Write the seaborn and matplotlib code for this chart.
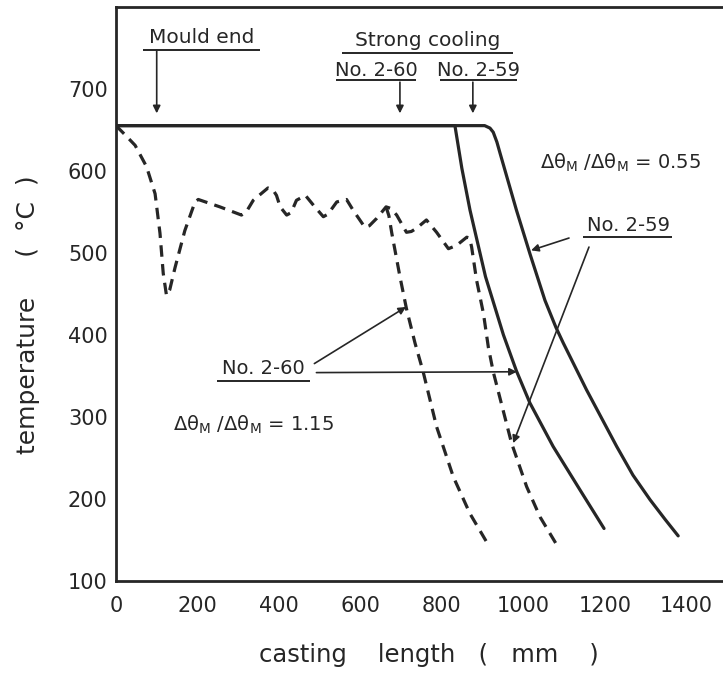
import matplotlib
matplotlib.use("Agg")
import matplotlib.pyplot as plt
import seaborn as sns
import pandas as pd

# ---------------- data ----------------
solid_260_x = [0, 832, 849, 869, 907, 925, 951, 983, 1016, 1073, 1139, 1198]
solid_260_t = [655, 655, 603, 552, 471, 442, 400, 356, 317, 264, 211, 164]

solid_259_x = [0, 905, 918, 926, 935, 943, 983, 1016, 1053, 1080, 1098, 1155, 1229, 1269, 1311,
               1348, 1380]
solid_259_t = [655, 655, 652, 647, 635, 621, 552, 499, 442, 409, 390, 333, 264, 229, 199,
               175, 155]

dash_259_x = [0, 20, 47, 75, 96, 108, 116, 124, 132, 145, 169, 194, 202, 255, 308, 320, 337, 373,
              385, 394, 403, 419, 430, 443, 465, 488, 509, 520, 542, 566, 582, 611, 622, 640, 663,
              675, 689, 713, 725, 738, 762, 787, 816, 836, 861, 868, 873, 885, 902, 914, 926, 971,
              1008, 1041, 1082]
dash_259_t = [655, 645, 631, 605, 572, 524, 475, 448, 455, 482, 527, 562, 565, 556, 546, 550, 564,
              579, 577, 570, 556, 546, 549, 564, 570, 556, 544, 547, 562, 565, 552, 531, 533, 542,
              556, 554, 546, 525, 526, 530, 540, 525, 505, 509, 519, 518, 507, 467, 426, 385, 355,
              268, 215, 178, 144]

dash_260_x = [663, 670, 677, 697, 713, 734, 754, 787, 828, 869, 914]
dash_260_t = [556, 545, 524, 471, 432, 390, 355, 288, 227, 182, 144]

x_ticks = [0, 200, 400, 600, 800, 1000, 1200, 1400]
y_ticks = [100, 200, 300, 400, 500, 600, 700]

# ---------------- style ----------------
sns.set_theme(style="white")
plt.rcParams["font.family"] = ["DejaVu Sans"]
plt.rcParams["mathtext.fontset"] = "dejavusans"
plt.rcParams["mathtext.default"] = "regular"
INK = "#262626"

fig = plt.figure(figsize=(7.23, 6.80), dpi=100)
ax = fig.add_axes([0.1604, 0.1456, 0.8396, 0.8446])

def df(x, t):
    return pd.DataFrame({"x": x, "t": t})

LW = 2.3
sns.lineplot(data=df(solid_260_x, solid_260_t), x="x", y="t", ax=ax, color=INK,
             lw=LW, sort=False, estimator=None)
sns.lineplot(data=df(solid_259_x, solid_259_t), x="x", y="t", ax=ax, color=INK,
             lw=LW, sort=False, estimator=None)
sns.lineplot(data=df(dash_259_x, dash_259_t), x="x", y="t", ax=ax, color=INK,
             lw=LW, sort=False, estimator=None)
sns.lineplot(data=df(dash_260_x, dash_260_t), x="x", y="t", ax=ax, color=INK,
             lw=LW, sort=False, estimator=None)
for ln in ax.lines[2:4]:
    ln.set_dashes((3.6, 2.3))
    ln.set_dash_capstyle("butt")
for ln in ax.lines:
    ln.set_solid_capstyle("round")
    ln.set_solid_joinstyle("round")

ax.set_xlim(0, 1490)
ax.set_ylim(100, 800)
ax.set_xticks(x_ticks)
ax.set_yticks(y_ticks)
ax.tick_params(direction="in", length=7, width=1.4, colors=INK, labelsize=15)
ax.tick_params(axis="x", pad=11)
ax.tick_params(axis="y", pad=6)
for s in ["left", "bottom", "top"]:
    ax.spines[s].set_linewidth(2.0)
    ax.spines[s].set_color(INK)
ax.spines["right"].set_visible(False)

ax.set_xlabel("casting    length   (   mm    )", fontsize=17.5, color=INK)
ax.xaxis.set_label_coords(0.515, -0.108)
ax.set_ylabel("temperature     (  °C  )", fontsize=18, color=INK)
ax.yaxis.set_label_coords(-0.125, 0.463)

# ---------------- annotations ----------------
TXT = dict(color=INK, ha="center", va="center")
arrow = dict(arrowstyle="-|>", lw=1.2, color=INK, mutation_scale=11, shrinkA=0, shrinkB=0)

def underline(x0, x1, y):
    ax.plot([x0, x1], [y, y], color=INK, lw=1.4, solid_capstyle="butt")

ax.text(211, 763, "Mould end", fontsize=14.5, **TXT)
underline(66, 353, 747)
ax.annotate("", xy=(100, 670), xytext=(100, 747), arrowprops=arrow)

ax.text(765, 759, "Strong cooling", fontsize=14.5, **TXT)
underline(555, 975, 744)
ax.text(638, 722, "No. 2-60", fontsize=14, **TXT)
underline(540, 736, 711)
ax.text(890, 722, "No. 2-59", fontsize=14, **TXT)
underline(795, 984, 711)
ax.annotate("", xy=(697, 670), xytext=(697, 708), arrowprops=arrow)
ax.annotate("", xy=(876, 670), xytext=(876, 708), arrowprops=arrow)

ax.text(1237, 610, r"$\Delta\theta_{M}$ /$\Delta\theta_{M}$ = 0.55", fontsize=14, **TXT)
ax.text(337, 290, r"$\Delta\theta_{M}$ /$\Delta\theta_{M}$ = 1.15", fontsize=14, **TXT)

ax.text(1258, 533, "No. 2-59", fontsize=14, **TXT)
underline(1146, 1365, 519)
ax.annotate("", xy=(1019, 503), xytext=(1112, 518), arrowprops=arrow)
ax.annotate("", xy=(975, 268), xytext=(1161, 507), arrowprops=arrow)

ax.text(361, 359, "No. 2-60", fontsize=14, **TXT)
underline(248, 476, 344)
ax.annotate("", xy=(712, 434), xytext=(487, 365), arrowprops=arrow)
ax.annotate("", xy=(984, 355), xytext=(492, 354), arrowprops=arrow)

fig.savefig("out.png", dpi=100, facecolor="white")
